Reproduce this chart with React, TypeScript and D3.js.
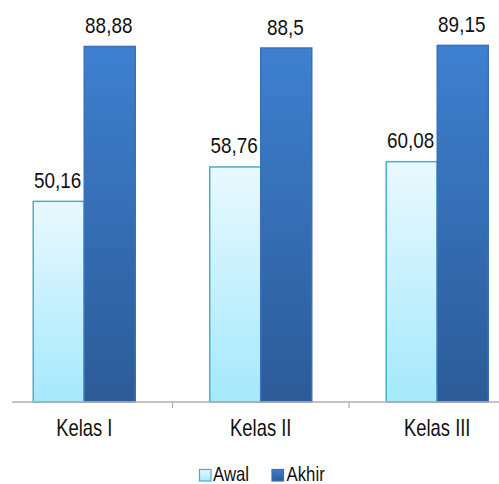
import React from "react";
import * as d3 from "d3";

const categories = ["Kelas I", "Kelas II", "Kelas III"];
const seriesNames = ["Awal", "Akhir"];
const awalValues = [50.16, 58.76, 60.08];
const akhirValues = [88.88, 88.5, 89.15];
const valueLabels = [
  ["50,16", "88,88"],
  ["58,76", "88,5"],
  ["60,08", "89,15"],
];

const W = 499;
const H = 484;
const FONT = "'Liberation Sans', Arial, sans-serif";
const SX = 0.84;

export default function App() {
  const x = d3.scaleBand<string>().domain(categories).range([-4, 525.5]).padding(0);
  const bw = x.bandwidth();
  const xs = d3
    .scaleBand<string>()
    .domain(seriesNames)
    .range([bw * 0.211, bw * 0.789])
    .padding(0);
  const y = d3.scaleLinear().domain([0, 100]).range([402, 2]);
  const data = [awalValues, akhirValues];
  const fills = ["url(#gAwal)", "url(#gAkhir)"];
  const strokes = ["#4aaecb", "#3a70b8"];
  const ticks = [x("Kelas II")!, x("Kelas III")!];

  return (
    <svg
      width={W}
      height={H}
      style={{ position: "absolute", left: 0, top: 0, background: "#fff" }}
    >
      <defs>
        <linearGradient id="gAwal" x1="0" y1="0" x2="0" y2="1">
          <stop offset="0%" stopColor="#e9f9fe" />
          <stop offset="100%" stopColor="#a4e9fc" />
        </linearGradient>
        <linearGradient id="gAkhir" x1="0" y1="0" x2="0" y2="1">
          <stop offset="0%" stopColor="#3e80d0" />
          <stop offset="100%" stopColor="#2c5b97" />
        </linearGradient>
      </defs>
      {categories.map((c, ci) =>
        seriesNames.map((s, si) => {
          const v = data[si][ci];
          const bx = x(c)! + xs(s)!;
          const by = y(v);
          return (
            <g key={c + s}>
              <rect
                x={bx}
                y={by}
                width={xs.bandwidth()}
                height={y(0) - by}
                fill={fills[si]}
                stroke={strokes[si]}
                strokeWidth={1.5}
              />
              <text
                transform={`translate(${bx + xs.bandwidth() / 2 - 1},${by - 13.5}) scale(${SX},1)`}
                textAnchor="middle"
                fontFamily={FONT}
                fontSize={22.5}
                fill="#111"
              >
                {valueLabels[ci][si]}
              </text>
            </g>
          );
        })
      )}
      <line x1={12} x2={W} y1={y(0)} y2={y(0)} stroke="#b0b0b0" strokeWidth={1.5} />
      {ticks.map((t, i) => (
        <line key={i} x1={t} x2={t} y1={y(0)} y2={y(0) + 6} stroke="#b0b0b0" strokeWidth={1.2} />
      ))}
      {categories.map((c) => (
        <text
          key={c}
          transform={`translate(${x(c)! + bw / 2},${436}) scale(0.8,1)`}
          textAnchor="middle"
          fontFamily={FONT}
          fontSize={23}
          fill="#111"
        >
          {c}
        </text>
      ))}
      <g>
        <rect x={199.5} y={469.5} width={11.5} height={11.5} fill="url(#gAwal)" stroke="#4aaecb" strokeWidth={1.2} />
        <text
          transform={`translate(213,480.5) scale(0.84,1)`}
          fontFamily={FONT}
          fontSize={20}
          fill="#111"
        >
          {seriesNames[0]}
        </text>
        <rect x={272} y={469.5} width={11.5} height={11.5} fill="url(#gAkhir)" stroke="#3a70b8" strokeWidth={1.2} />
        <text
          transform={`translate(286.5,480.5) scale(0.84,1)`}
          fontFamily={FONT}
          fontSize={20}
          fill="#111"
        >
          {seriesNames[1]}
        </text>
      </g>
    </svg>
  );
}
